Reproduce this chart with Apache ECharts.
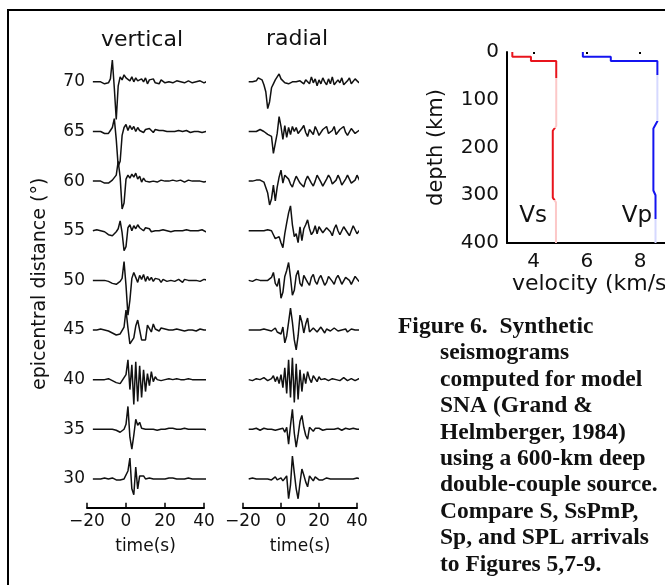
<!DOCTYPE html>
<html><head><meta charset="utf-8">
<script src="https://cdn.jsdelivr.net/npm/echarts@6/dist/echarts.min.js"></script>
<style>html,body{margin:0;padding:0;background:#fff}#c{width:665px;height:585px}</style>
</head><body><div id="c"></div>
<script>
// ---------- data ----------
const distances = [70, 65, 60, 55, 50, 45, 40, 35, 30];        // epicentral distance (deg)
const timeTicks = [-20, 0, 20, 40];                               // time (s)
const timeStart = -17, timeStep = 1;                              // trace sampling
const ampUnit = 0.1;                                              // amplitude unit in degrees of trace offset

// vertical component traces (amplitude samples, up positive)
const v70 = [0,0,0,0,0,0,-2,-3,-1,3, 22,-6,-38,-4,5,2,7,4,6,1, 5,0,4,1,-1,3,0,4,-2,2, 0,3,-1,1,-2,2,0,-1,1,0, 2,-1,0,1,-1,0,2,-1,0,1, 0,-1,1,0,0,1,0,-1,0,1, 0,0];
const v65 = [0,0,0,0,0,-1,-2,-3,-2,1, 4,13,-8,-35,-30,-4,4,7,1,6, 2,5,0,4,1,3,-1,2,0,3, 1,-1,2,0,1,-1,1,0,0,1, 0,-1,0,0,1,-1,0,0,1,0, -1,0,0,1,0,0,-1,0,0,1, 0,0];
const v60 = [0,1,0,-1,0,-1,-2,-3,-2,0, 1,3,6,20,4,-28,-22,2,6,3, 7,4,8,2,5,-1,3,0,2,-1, 1,0,2,-1,0,1,-1,0,1,0, 0,1,-1,0,0,1,0,-1,0,1, 0,0,-1,0,1,0,0,-1,0,0, 1,0];
const v55 = [0,0,1,0,0,0,-1,-2,-4,-5, -5,-3,-1,2,10,-2,-20,-16,3,6, 0,5,2,6,3,4,0,3,1,2, -1,1,0,2,0,-1,1,0,0,1, -1,0,0,1,0,-1,0,0,1,0, 0,1,0,-1,0,0,1,0,-1,0, 0,1];
const v50 = [0,0,0,0,0,0,0,1,-1,-2, -3,-4,-4,-3,-1,2,19,-5,-35,-20, 2,8,3,-2,5,1,6,-1,4,0, 3,-1,2,0,1,-2,1,2,-1,0, 0,1,-1,0,1,0,-2,1,2,0, -1,0,1,0,0,-1,0,1,0,0, 0,0];
const v45 = [0,0,0,0,1,0,0,-1,-1,-2, -3,-4,-5,-5,-4,-2,3,20,2,-14, -15,-8,4,10,0,-10,-8,-10,5,3, -2,6,1,3,-1,2,0,1,-1,0, 1,0,-1,1,0,0,1,-1,0,0, 1,0,0,-1,0,1,0,0,0,0, 0,0];
const v40 = [0,0,0,0,0,0,0,0,1,0, -1,-2,-3,-4,-4,-2,2,5,20,-10, 15,-25,18,-22,14,-18,10,-12,6,-6, 8,-2,3,0,2,-1,1,0,0,1, 0,0,0,1,0,0,0,0,0,1, 0,0,0,0,0,0,0,0,0,0, 0,0];
const v35 = [0,0,0,0,0,0,0,0,0,0, 0,-1,-1,-3,-3,-2,0,5,23,-8, -20,-6,10,4,7,1,3,0,2,0, 1,0,1,-1,1,0,1,0,0,1, 0,1,0,0,1,0,0,1,0,0, 1,0,0,0,1,0,0,0,0,-1, 0,0];
const v30 = [0,0,0,1,0,0,1,0,0,0, 1,0,-1,-2,-1,-2,0,2,8,21, -10,-16,12,-10,3,1,3,0,2,1, 2,0,1,0,1,0,1,0,0,1, 0,1,0,0,1,0,1,0,0,1, 0,0,1,0,0,0,1,0,0,0, 0,0];

// radial component traces
const r70 = [0,0,0,0,1,4,5,2,-3,-10, -27,-20,-6,-2,2,5,8,3,1,-1, 0,-2,-1,0,-1,0,-1,1,0,-2, 2,4,-2,5,-1,3,-4,2,-2,4, 0,-3,3,-2,5,-3,-4,2,-1,4, -3,-5,1,4,-2,-4,3,5,-1,2, 4,0];
const r65 = [0,0,0,-1,0,1,2,1,0,-2, -3,-1,-5,-22,-12,-2,15,5,-8,6, -6,4,-3,5,0,4,-2,-4,3,6, -1,-5,2,4,-3,5,1,-4,-5,2, 4,5,-2,-4,1,5,-3,-5,2,4, 5,-1,-4,-3,3,5,-2,-4,1,3, -1,0];
const r60 = [0,0,0,0,1,2,1,0,-1,-3, -12,-24,-18,-4,-20,-6,4,11,-2,6, 7,2,-3,-6,0,5,6,-2,-3,-6, 1,5,4,-2,-5,0,6,5,-1,-5, -4,2,6,3,-3,-5,1,6,2,-4, -5,2,6,5,-2,-4,1,6,4,-2, 0,2];
const r55 = [0,0,0,0,0,0,0,1,0,0, 1,2,0,-4,-8,-10,-6,-12,-17,-3, 8,18,25,6,-6,-3,-12,4,-10,2, 6,11,2,-4,-1,5,-3,4,6,-2, -4,3,5,-1,-5,2,6,0,-4,-2, 4,5,-2,-5,0,5,3,-3,-4,2, 4,0];
const r50 = [0,0,-1,0,1,0,0,-1,0,2, 0,-2,3,8,-3,-6,2,-18,-12,4, 10,18,3,-15,-10,5,10,-3,-6,5, 4,-2,-5,3,6,-1,-4,2,5,0, -5,-2,4,5,-1,-4,2,5,1,-4, -3,3,5,0,-4,-2,4,5,-1,-3, 2,0];
const r45 = [0,0,0,0,0,0,0,0,1,0, 0,1,-1,0,2,-2,0,-4,3,-13, -6,8,22,8,-10,-20,-6,15,8,-3, 6,12,-2,-4,2,4,-2,-1,3,0, -3,1,2,-1,-2,2,1,-1,-3,0, 2,1,-2,-1,1,2,0,-2,0,1, 0,0];
const r40 = [0,0,-1,0,1,0,0,1,2,0, -1,0,1,4,-2,3,-4,5,-8,12, -14,20,-18,22,-23,16,-20,10,-12,6, -4,8,1,-3,4,2,-2,3,0,-2, 1,2,-1,-2,1,2,0,-2,-1,1, 2,0,-1,0,1,0,-1,0,1,0, 0,0];
const r35 = [0,1,0,0,1,0,-1,0,1,0, 0,-1,0,1,-1,1,0,-2,1,-3, 2,-15,4,20,-4,-18,-6,8,14,2, -6,-10,2,4,-2,1,-1,1,0,-1, 1,0,-1,0,1,0,-1,1,0,-1, 0,1,0,0,-1,1,0,0,-1,0, 0,0];
const r30 = [0,0,1,0,0,-1,0,1,0,-1, 0,1,-1,0,2,-1,0,1,-2,-3, 3,-20,-6,23,6,-10,-20,-4,10,4, -3,-8,3,1,-2,2,0,-1,1,-1, 0,1,-1,0,1,0,-1,0,1,0, -1,0,1,0,-1,0,0,1,0,0, -1,0];

// velocity model SNA
const vsDepth = [0, 10, 10, 19, 19, 155, 165, 305, 315, 400];
const vsVel   = [3.2, 3.2, 3.9, 3.9, 4.85, 4.85, 4.72, 4.72, 4.84, 4.84];
const vpDepth = [0, 10, 10, 19, 19, 145, 160, 290, 300, 400];
const vpVel   = [5.85, 5.85, 6.9, 6.9, 8.65, 8.65, 8.5, 8.5, 8.58, 8.58];
const depthTicks = [0, 100, 200, 300, 400];
const velTicks = [4, 6, 8];

const captionFirst = 'Figure 6.  Synthetic';
const captionRest = ['seismograms', 'computed for model', 'SNA (Grand &', 'Helmberger, 1984)',
  'using a 600-km deep', 'double-couple source.', 'Compare S, SsPmP,', 'Sp, and SPL arrivals', 'to Figures 5,7-9.'];

// ---------- chart ----------
const verticalTraces = [v70, v65, v60, v55, v50, v45, v40, v35, v30];
const radialTraces = [r70, r65, r60, r55, r50, r45, r40, r35, r30];
const FONT = 'DejaVu Sans';
const INK = '#111';

function traceSeries(amps, dist, axisIdx) {
  return {
    type: 'line', xAxisIndex: axisIdx, yAxisIndex: axisIdx,
    data: amps.map((a, k) => [timeStart + k * timeStep, dist + a * ampUnit]),
    symbol: 'none', showSymbol: false, clip: false, silent: true,
    lineStyle: { color: INK, width: 1.5 }
  };
}
const series = [];
verticalTraces.forEach((a, i) => series.push(traceSeries(a, distances[i], 0)));
radialTraces.forEach((a, i) => series.push(traceSeries(a, distances[i], 1)));
const vsIdx = series.length;
series.push({ type: 'line', xAxisIndex: 2, yAxisIndex: 2, symbol: 'none', silent: true, clip: false,
  data: vsDepth.map((d, k) => [vsVel[k], d]), lineStyle: { width: 2 } });
const vpIdx = series.length;
series.push({ type: 'line', xAxisIndex: 2, yAxisIndex: 2, symbol: 'none', silent: true, clip: false,
  data: vpDepth.map((d, k) => [vpVel[k], d]), lineStyle: { width: 2 } });

const timeAxis = (grid) => ({
  gridIndex: grid, type: 'value', min: timeTicks[0], max: timeTicks[timeTicks.length - 1], interval: 20,
  axisLine: { show: true, onZero: false, lineStyle: { color: '#000', width: 2 } },
  axisTick: { show: true, inside: true, length: 5, lineStyle: { color: '#000', width: 1.5 } },
  axisLabel: { fontFamily: FONT, fontSize: 17, color: INK, margin: 5,
    formatter: v => (v < 0 ? '\u2212' + Math.abs(v) : String(v)) },
  splitLine: { show: false },
  name: 'time(s)', nameLocation: 'middle', nameGap: 30,
  nameTextStyle: { fontFamily: FONT, fontSize: 17, color: INK }
});
const distAxis = (grid, showLabels) => ({
  gridIndex: grid, type: 'value', min: 27.1, max: 72.2,
  axisLine: { show: false, onZero: false }, axisTick: { show: false }, splitLine: { show: false },
  axisLabel: { show: showLabels, customValues: distances, fontFamily: FONT, fontSize: 17, color: INK, margin: 2 },
  name: showLabels ? 'epicentral distance (\u00B0)' : '', nameLocation: 'middle', nameRotate: 90, nameGap: 37,
  nameTextStyle: { fontFamily: FONT, fontSize: 19, color: INK }
});

const txt = (x, y, text, font, align) => ({ type: 'text', x: x, y: y, silent: true,
  style: { text: text, font: font, fill: INK, align: align, verticalAlign: 'middle', textAlign: align, textVerticalAlign: 'middle' } });
const capFont = 'bold 23.5px "Liberation Serif"';
const graphic = [
  { type: 'rect', shape: { x: 8, y: 10, width: 720, height: 640 }, style: { fill: 'none', stroke: '#000', lineWidth: 2 }, silent: true },
  txt(142, 40, 'vertical', '22px "DejaVu Sans"', 'center'),
  txt(297, 39, 'radial', '22px "DejaVu Sans"', 'center'),
  txt(533, 216, 'Vs', '23px "DejaVu Sans"', 'center'),
  txt(637, 216, 'Vp', '23px "DejaVu Sans"', 'center'),
  txt(398, 327, captionFirst, capFont, 'left')
];
captionRest.forEach((line, i) => graphic.push(txt(440, 327 + (i + 1) * 26.4, line, capFont, 'left')));

const option = {
  animation: false,
  backgroundColor: '#fff',
  grid: [
    { left: 87, top: 60, width: 117, height: 447.7, outerBoundsMode: 'none', containLabel: false },
    { left: 243, top: 60, width: 114, height: 447.7, outerBoundsMode: 'none', containLabel: false },
    { left: 507, top: 52, width: 173, height: 191, outerBoundsMode: 'none', containLabel: false }
  ],
  xAxis: [
    timeAxis(0), timeAxis(1),
    { gridIndex: 2, type: 'value', min: 3, max: 9.5,
      axisLine: { show: true, onZero: false, lineStyle: { color: '#000', width: 2 } },
      axisTick: { show: false }, splitLine: { show: false },
      axisLabel: { customValues: velTicks, fontFamily: FONT, fontSize: 20, color: INK, margin: 9 },
      name: 'velocity (km/s)', nameLocation: 'middle', nameGap: 29,
      nameTextStyle: { fontFamily: FONT, fontSize: 22, color: INK } },
    { gridIndex: 2, type: 'value', min: 3, max: 9.5, position: 'top',
      axisLine: { show: false, onZero: false }, splitLine: { show: false }, axisLabel: { show: false },
      axisTick: { show: true, inside: true, length: 2, customValues: velTicks, lineStyle: { color: '#000', width: 2 } } }
  ],
  yAxis: [
    distAxis(0, true), distAxis(1, false),
    { gridIndex: 2, type: 'value', inverse: true, min: depthTicks[0], max: depthTicks[depthTicks.length - 1], interval: 100,
      axisLine: { show: true, onZero: false, lineStyle: { color: '#000', width: 2 } },
      axisTick: { show: false }, splitLine: { show: false },
      axisLabel: { fontFamily: FONT, fontSize: 20, color: INK, margin: 8 },
      name: 'depth (km)', nameLocation: 'middle', nameRotate: 90, nameGap: 60,
      nameTextStyle: { fontFamily: FONT, fontSize: 21, color: INK } }
  ],
  visualMap: [
    { type: 'piecewise', show: false, seriesIndex: vsIdx, dimension: 1,
      pieces: [ { gte: 0, lt: 55, color: '#e8141c' }, { gte: 55, lt: 160, color: '#fcc8c8' },
                { gte: 160, lt: 310, color: '#e8141c' }, { gte: 310, lte: 400, color: '#fcc8c8' } ] },
    { type: 'piecewise', show: false, seriesIndex: vpIdx, dimension: 1,
      pieces: [ { gte: 0, lt: 48, color: '#1414f0' }, { gte: 48, lt: 145, color: '#d6d9ff' },
                { gte: 145, lt: 350, color: '#1414f0' }, { gte: 350, lte: 400, color: '#d6d9ff' } ] }
  ],
  graphic: graphic,
  series: series
};
const chart = echarts.init(document.getElementById('c'), null, { renderer: 'canvas' });
chart.setOption(option);
</script></body></html>
